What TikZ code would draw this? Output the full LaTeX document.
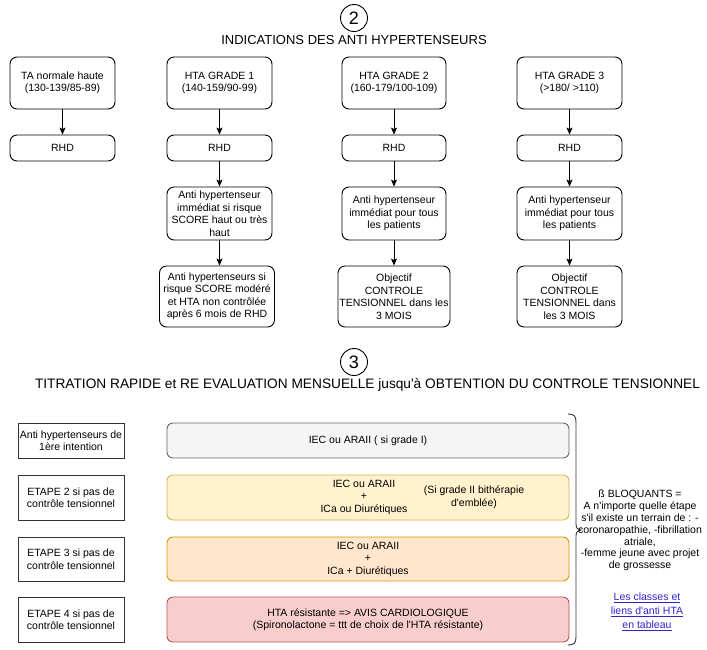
\documentclass[tikz,border=0pt]{standalone}
\usepackage{fontspec}
\setmainfont{Liberation Sans}[Ligatures=TeXOff]
\usetikzlibrary{arrows.meta}
\definecolor{greyfill}{HTML}{F5F5F5}
\definecolor{greyline}{HTML}{666666}
\definecolor{yelfill}{HTML}{FFF2CC}
\definecolor{yelline}{HTML}{D6B656}
\definecolor{orafill}{HTML}{FFE6CC}
\definecolor{oraline}{HTML}{D79B00}
\definecolor{redfill}{HTML}{F8CECC}
\definecolor{redline}{HTML}{B85450}
\definecolor{linkcol}{RGB}{51,34,204}
\definecolor{darkline}{HTML}{333333}
\begin{document}
\begin{tikzpicture}[x=1pt,y=-1pt,
  every node/.style={font=\fontsize{10.5}{12.5}\selectfont, align=center, inner sep=0pt},
  tbox/.style={draw=black, line width=0.9pt, rounded corners=7pt, fill=white},
  lbox/.style={draw=darkline, line width=1pt, fill=white, minimum width=106pt},
  rbox/.style={line width=0.9pt, rounded corners=6pt, minimum width=402pt},
  arr/.style={-{Stealth[length=7pt,width=6pt,inset=1.5pt]}, line width=0.9pt},
  numcirc/.style={circle, draw=black, line width=0.9pt, minimum size=27pt, font=\fontsize{18}{18}\selectfont},
  titletext/.style={font=\fontsize{13}{15}\selectfont}]
\useasboundingbox (0,0) rectangle (707,649);

% Section 2
\node[numcirc] (n2) at (354,18) {2};
\node[titletext] (t2) at (354,40) {INDICATIONS DES ANTI HYPERTENSEURS};

\node[tbox,minimum width=105pt,minimum height=52pt] (a1) at (62.5,83) {TA normale haute\\(130-139/85-89)};
\node[tbox,minimum width=105pt,minimum height=26pt] (a2) at (62.5,148) {RHD};

\node[tbox,minimum width=105pt,minimum height=52pt] (b1) at (219.5,83) {HTA GRADE 1\\(140-159/90-99)};
\node[tbox,minimum width=105pt,minimum height=26pt] (b2) at (219.5,148) {RHD};
\node[tbox,minimum width=105pt,minimum height=53pt] (b3) at (219.5,213.5) {Anti hypertenseur\\immédiat si risque\\SCORE haut ou très\\haut};
\node[tbox,minimum width=115pt,minimum height=61pt] (b4) at (217,296.5) {Anti hypertenseurs si\\risque SCORE modéré\\et HTA non contrôlée\\après 6 mois de RHD};

\node[tbox,minimum width=104pt,minimum height=52pt] (c1) at (394,83) {HTA GRADE 2\\(160-179/100-109)};
\node[tbox,minimum width=104pt,minimum height=26pt] (c2) at (394,148) {RHD};
\node[tbox,minimum width=104pt,minimum height=53pt] (c3) at (394,213.5) {Anti hypertenseur\\immédiat pour tous\\les patients};
\node[tbox,minimum width=112pt,minimum height=61pt] (c4) at (394,296.5) {Objectif\\CONTROLE\\TENSIONNEL dans les\\3 MOIS};

\node[tbox,minimum width=105pt,minimum height=52pt] (d1) at (569.5,83) {HTA GRADE 3\\(>180/ >110)};
\node[tbox,minimum width=105pt,minimum height=26pt] (d2) at (569.5,148) {RHD};
\node[tbox,minimum width=105pt,minimum height=53pt] (d3) at (569.5,213.5) {Anti hypertenseur\\immédiat pour tous\\les patients};
\node[tbox,minimum width=105pt,minimum height=61pt] (d4) at (569.5,296.5) {Objectif\\CONTROLE\\TENSIONNEL dans\\les 3 MOIS};

\draw[arr] (a1) -- (a2);
\draw[arr] (b1) -- (b2);
\draw[arr] (b2) -- (b3);
\draw[arr] (b3.south) -- (b3.south |- b4.north);
\draw[arr] (c1) -- (c2);
\draw[arr] (c2) -- (c3);
\draw[arr] (c3) -- (c4);
\draw[arr] (d1) -- (d2);
\draw[arr] (d2) -- (d3);
\draw[arr] (d3) -- (d4);

% Section 3
\node[numcirc] (n3) at (354,362) {3};
\node[titletext, font=\fontsize{13.7}{15}\selectfont] (t3) at (367.5,385) {TITRATION RAPIDE et RE EVALUATION MENSUELLE jusqu'à OBTENTION DU CONTROLE TENSIONNEL};

\node[lbox,minimum height=35pt] (l1) at (71,440.5) {Anti hypertenseurs de\\1ère intention};
\node[lbox,minimum height=45pt] (l2) at (71,497.5) {ETAPE 2 si pas de\\contrôle tensionnel};
\node[lbox,minimum height=44pt] (l3) at (71,559) {ETAPE 3 si pas de\\contrôle tensionnel};
\node[lbox,minimum height=45pt] (l4) at (71,619.5) {ETAPE 4 si pas de\\contrôle tensionnel};

\node[rbox,draw=greyline,fill=greyfill,minimum height=35pt] (r1) at (368,440.5) {IEC ou ARAII ( si grade I)};
\node[rbox,draw=yelline,fill=yelfill,minimum height=45pt] (r2) at (368,497.5) {};
\node (r2t) at (364,497) {IEC ou ARAII\\+\\ICa ou Diurétiques};
\node (sn) at (474,497) {(Si grade II bithérapie\\d'emblée)};
\node[rbox,draw=oraline,fill=orafill,minimum height=44pt] (r3) at (368,559) {IEC ou ARAII\\+\\ICa + Diurétiques};
\node[rbox,draw=redline,fill=redfill,minimum height=45pt] (r4) at (368,619.5) {HTA résistante => AVIS CARDIOLOGIQUE\\(Spironolactone = ttt de choix de l'HTA résistante)};

% brace
\draw[darkline, line width=0.9pt]
  (568,414) .. controls (574,414) and (576,416) .. (576,422) -- (576,524)
  .. controls (576,528) and (578,530) .. (581,530)
  .. controls (578,530) and (576,532) .. (576,536) -- (576,637)
  .. controls (576,643) and (574,645) .. (568,645);

\node[font=\fontsize{10.5}{11.8}\selectfont] (bq) at (640,530.5) {ß BLOQUANTS =\\A n'importe quelle étape\\s'il existe un terrain de : -\\coronaropathie, -fibrillation\\atriale,\\-femme jeune avec projet\\de grossesse};

\node[text=linkcol, font=\fontsize{10.5}{13.8}\selectfont] (lk) at (647,612) {\underline{Les classes et}\\\underline{liens d'anti HTA}\\\underline{en tableau}};
\end{tikzpicture}
\end{document}
